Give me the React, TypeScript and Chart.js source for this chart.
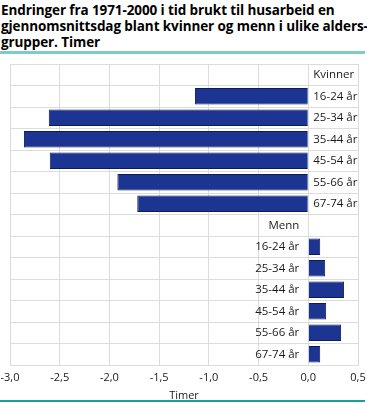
import React, { useEffect, useRef } from "react";
import { Chart, registerables } from "chart.js";

Chart.register(...registerables);

const titleLines = [
  "Endringer fra 1971-2000 i tid brukt til husarbeid en",
  "gjennomsnittsdag blant kvinner og menn i ulike alders-",
  "grupper. Timer",
];
const groupNames = ["Kvinner", "Menn"];
const ageGroups = ["16-24 år", "25-34 år", "35-44 år", "45-54 år", "55-66 år", "67-74 år"];
const womenValues = [-1.14, -2.61, -2.86, -2.6, -1.92, -1.72];
const menValues = [0.12, 0.17, 0.36, 0.18, 0.33, 0.12];
const xTicks = [-3.0, -2.5, -2.0, -1.5, -1.0, -0.5, 0.0, 0.5];
const xTitle = "Timer";

const FONT = "'Open Sans', 'DejaVu Sans', sans-serif";

export default function App() {
  const ref = useRef<HTMLCanvasElement | null>(null);

  useEffect(() => {
    if (!ref.current) return;
    const labels: string[] = [groupNames[0], ...ageGroups, groupNames[1], ...ageGroups];
    const data: (number | null)[] = [null, ...womenValues, null, ...menValues];
    const sides: number[] = labels.map((_, i) => (i <= ageGroups.length ? 1 : -1));

    const labelPlugin = {
      id: "rowLabels",
      afterDatasetsDraw(chart: any) {
        const { ctx, scales } = chart;
        const x0 = scales.x.getPixelForValue(0);
        ctx.save();
        ctx.font = `11.5px ${FONT}`;
        ctx.fillStyle = "#1a1a1a";
        ctx.textBaseline = "middle";
        labels.forEach((lab, i) => {
          const y = scales.y.getPixelForValue(i);
          if (sides[i] > 0) {
            ctx.textAlign = "left";
            ctx.fillText(lab, x0 + 5, y);
          } else {
            ctx.textAlign = "right";
            ctx.fillText(lab, x0 - 9, y);
          }
        });
        ctx.restore();
      },
    };

    const chart = new Chart(ref.current, {
      type: "bar",
      data: {
        labels,
        datasets: [
          {
            data,
            backgroundColor: "#1c3592",
            borderColor: "#0e1c55",
            borderWidth: 1,
            categoryPercentage: 1,
            barPercentage: 0.76,
          },
        ],
      },
      options: {
        indexAxis: "y",
        animation: false,
        responsive: false,
        maintainAspectRatio: false,
        layout: { padding: { top: 8, bottom: 3, left: 10, right: 9 } },
        plugins: { legend: { display: false }, tooltip: { enabled: false } },
        scales: {
          x: {
            min: xTicks[0],
            max: xTicks[xTicks.length - 1],
            afterBuildTicks: (axis: any) => {
              axis.ticks = xTicks.map((v) => ({ value: v }));
            },
            afterFit: (axis: any) => {
              axis.paddingLeft = 0;
              axis.paddingRight = 0;
            },
            ticks: {
              font: { family: FONT, size: 11, lineHeight: 1 },
              color: "#1a1a1a",
              padding: 7,
              callback: (v: any) => Number(v).toFixed(1).replace(".", ","),
            },
            grid: { color: "#dcdcdc", drawTicks: false },
            border: { color: "#dcdcdc" },
            title: {
              display: true,
              text: xTitle,
              font: { family: FONT, size: 11, lineHeight: 1 },
              color: "#1a1a1a",
              padding: { top: 0, bottom: 0 },
            },
          },
          y: {
            ticks: { display: false },
            grid: { color: "#dcdcdc", drawTicks: false, offset: true },
            border: { color: "#dcdcdc" },
          },
        },
      },
      plugins: [labelPlugin],
    });
    return () => chart.destroy();
  }, []);

  return (
    <div
      style={{
        position: "fixed",
        left: 0,
        top: 0,
        width: 367,
        height: 404,
        background: "#fff",
        overflow: "hidden",
      }}
    >
      <div
        style={{
          position: "absolute",
          left: 1,
          top: 2,
          fontFamily: FONT,
          fontWeight: 700,
          fontSize: 13.5,
          lineHeight: "16px",
          color: "#000",
          letterSpacing: "-0.1px",
          whiteSpace: "nowrap",
        }}
      >
        {titleLines.map((l, i) => (
          <div key={i}>{l}</div>
        ))}
      </div>
      <div style={{ position: "absolute", left: 0, top: 51, height: 3, width: 365, background: "#80cbc9" }} />
      <canvas
        ref={ref}
        width={367}
        height={348}
        style={{ position: "absolute", left: 0, top: 56, display: "block" }}
      />
      <div style={{ position: "absolute", left: 0, top: 400, height: 2, width: 365, background: "#1a9f9b" }} />
    </div>
  );
}
